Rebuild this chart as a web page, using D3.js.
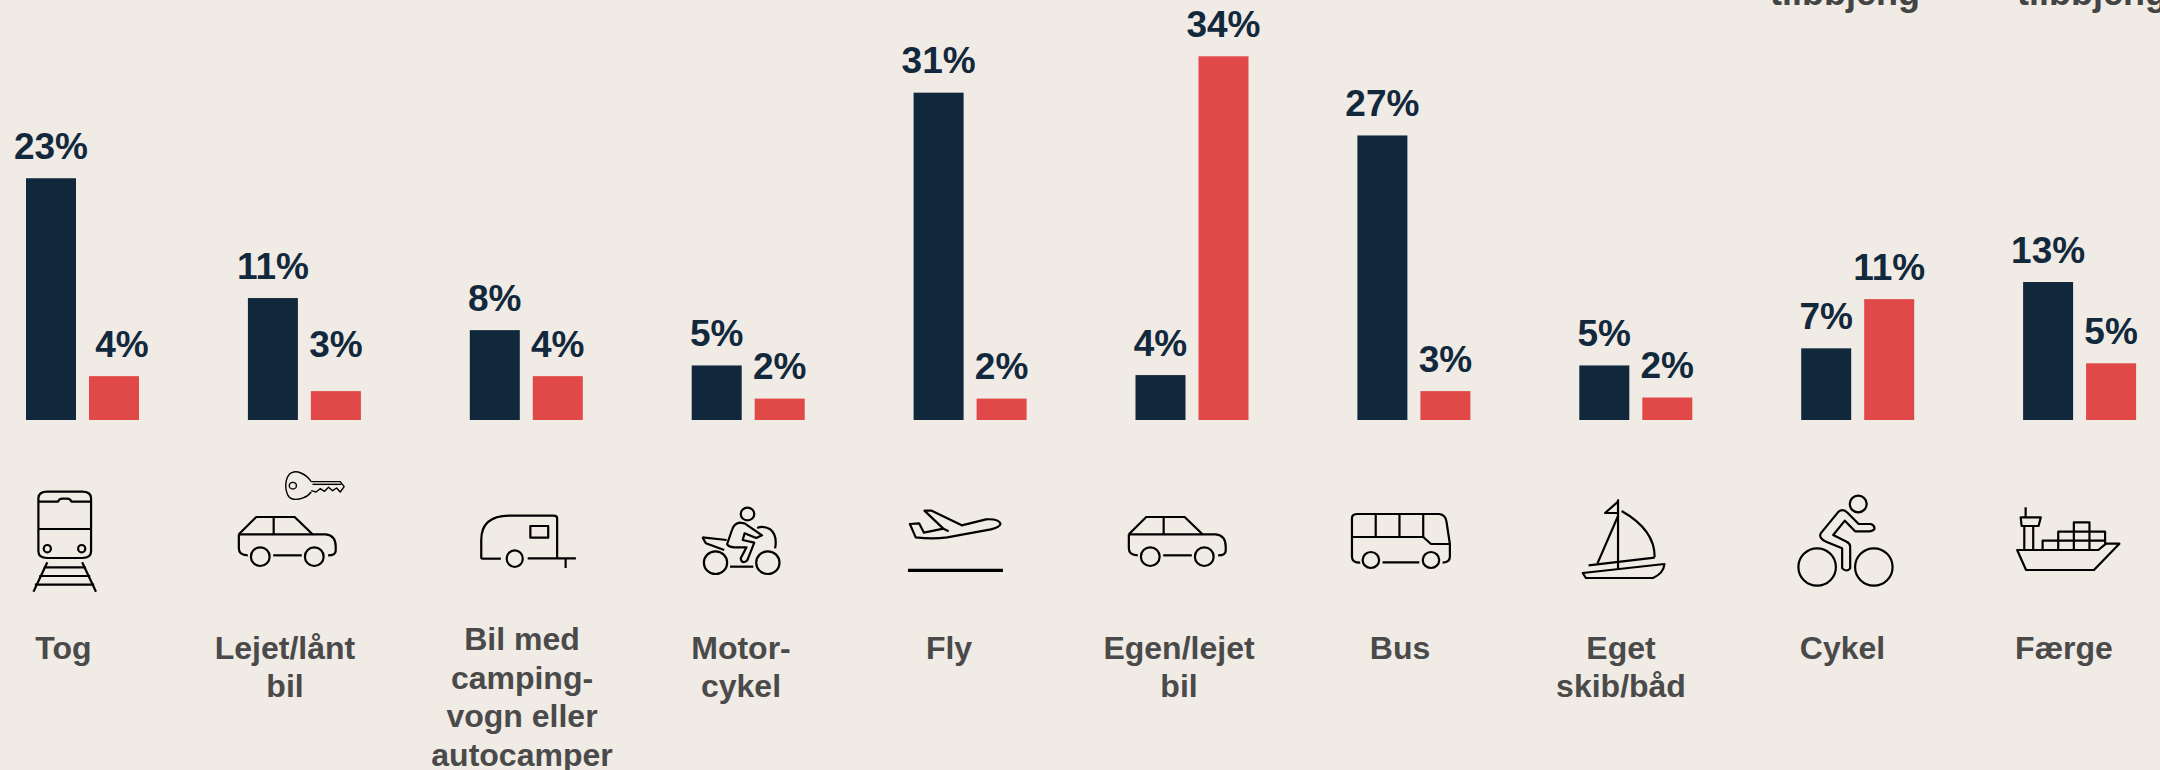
<!DOCTYPE html>
<html lang="da">
<head>
<meta charset="utf-8">
<title>Transportmidler</title>
<script src="https://cdn.jsdelivr.net/npm/d3@7/dist/d3.min.js"></script>
<style>
    html, body { margin: 0; padding: 0; background: #f0ebe4; overflow: hidden; }
    svg { display: block; }
    text { font-family: "Liberation Sans", Arial, sans-serif; font-weight: bold; }
    .valueLb { font-size: 37px; fill: #12283c; text-anchor: middle; }
    .catLb { font-size: 32px; fill: #4a4a4a; text-anchor: middle; }
    .cutLb { font-size: 36px; fill: #444444; }
    .icon path, .icon ellipse, .icon rect {
        fill: none;
        stroke: #000;
        stroke-width: 2.2;
        stroke-linejoin: round;
        vector-effect: non-scaling-stroke;
    }
</style>
</head>
<body>
<div id="main"></div>
<script>
// values (bars are not quite at the rounded label values)
const categories = ["Tog", "Lejet/lånt bil", "Bil med camping", "Motorcykel", "Fly",
                    "Egen/lejet bil", "Bus", "Eget skib/båd", "Cykel", "Færge"];
const seriesNames = ["dark", "red"];
const darkValues = [22.6, 11.4, 8.4, 5.1, 30.6, 4.2, 26.6, 5.1, 6.7, 12.9];
const redValues = [4.1, 2.7, 4.1, 2.0, 2.0, 34.0, 2.7, 2.1, 11.3, 5.3];
const categoryLines = [
    ["Tog"],
    ["Lejet/lånt", "bil"],
    ["Bil med", "camping-", "vogn eller", "autocamper"],
    ["Motor-", "cykel"],
    ["Fly"],
    ["Egen/lejet", "bil"],
    ["Bus"],
    ["Eget", "skib/båd"],
    ["Cykel"],
    ["Færge"]
];
const cutOffLabels = ["tilbbjeng", "tilbbjeng"];

const ctx = {
    w: 2160,
    h: 770,
    BASE_Y: 420,
    LABEL_GAP: 19.5,
    LINE_H: 38.4,
    DARK: "#11283c",
    RED: "#e14848",
    // centre of the category text, it is not centred on the bars
    catX: [63.5, 285, 522, 741, 949, 1179, 1400, 1621, 1842.5, 2064],
    // a couple of value labels were moved by hand in the original
    nudge: {"Tog|red": [8, 0], "Lejet/lånt bil|red": [0, -15]},
};

// icon outlines, traced in crop pixels; each crop has its own x scale, y is always 3x
const crops = {
    a: {x0: 0, sx: 2.24},
    b: {x0: 700, sx: 2.063},
    c: {x0: 1460, sx: 2.24},
};
const carPaths = [
    "M535 283 L574 231 H660 L700 283 H730 Q752 286 752 320 V332 Q752 346 735 346",
    "M535 283 V325 Q535 346 555 346",
    "M535 283 H700",
    "M613 231 V283",
    "M612 346 H676"
];
const carWheels = [[583, 350, 21, 28], [704, 350, 21, 28]];
const icons = [
    {crop: "a", paths: [
        "M86 175 Q86 155 106 155 H184 Q204 155 204 175 V334 Q204 354 184 354 H106 Q86 354 86 334 Z",
        "M86 185 H130 Q132 176 140 176 H150 Q158 176 160 185 H204",
        "M86 267 H204",
        "M106 367 L75 455", "M184 367 L215 455",
        "M98 382 H192", "M88 408 H202", "M78 434 H211"
    ], ellipses: [[106, 326, 8, 11], [183, 326, 8, 11]]},
    {crop: "a", paths: carPaths, ellipses: carWheels},
    {crop: "a", thin: true, paths: [
        "M697 125 H762 L771 140 L762 156 L754 144 L745 152 L736 142 L727 154 L717 146 L708 156 L697 152",
        "M700 133 H765",
        "M697 125 C685 100 665 92 655 97 C635 105 635 170 655 177 C670 182 690 170 697 156"
    ], ellipses: [[656, 137, 8, 10]]},
    {crop: "a", paths: [
        "M1078 356 V300 Q1078 228 1140 227 H1240 Q1248 227 1248 235 V354",
        "M1078 356 H1122",
        "M1182 355 H1290",
        "M1267 355 V384",
        "M1188 258 H1228 V293 H1188 Z"
    ], ellipses: [[1153, 356, 18, 25]]},
    {crop: "b", paths: [
        "M62 380 H110",
        "M82 248 Q70 250 66 270 L56 312 Q58 320 70 322 L96 322 L84 355 Q85 368 92 366 Q98 364 100 352 L112 308 L88 300 L92 280 L116 294 L128 286 L92 250 Z",
        "M5 292 L55 300", "M5 292 L12 310 L50 330",
        "M118 264 Q130 256 145 268 Q160 285 155 325"
    ], ellipses: [[98, 222, 14, 19], [32, 368, 24, 34], [140, 368, 24, 34]]},
    {crop: "b", paths: [
        "M433 252 L452 250 L462 278 L502 266 L463 212 L478 212 L540 256 L590 238 Q618 236 620 252 Q618 262 600 268 L510 292 Q480 298 445 292 Z",
        "M502 266 L513 274"
    ], ellipses: []},
    {crop: "b", thick: true, paths: ["M429 391 H625"], ellipses: []},
    {crop: "a", dx: 890, paths: carPaths, ellipses: carWheels},
    {crop: "b", paths: [
        "M1362 368 Q1345 368 1345 350 V234 Q1345 222 1357 222 H1525 Q1538 224 1540 245 L1547 312 V350 Q1547 366 1532 368",
        "M1345 291 H1492 L1508 312 H1547",
        "M1394 222 V291", "M1443 222 V291", "M1492 222 V291",
        "M1408 367 H1484"
    ], ellipses: [[1384, 360, 17, 24], [1508, 360, 17, 24]]},
    {crop: "c", paths: [
        "M354 178 V388",
        "M354 185 L325 219 H354",
        "M354 228 L308 370",
        "M362 213 Q437 270 436 352",
        "M288 376 L436 353",
        "M275 399 L458 372 Q456 400 432 414 H282 Z"
    ], ellipses: []},
    {crop: "c", paths: [
        "M808 280 L848 215 Q858 205 868 218 L893 252 H920 Q930 256 928 268 Q922 275 915 274 H885 L862 242 L836 285 L866 305 Q874 310 874 320 V385 Q866 398 856 385 V325 L820 305 Q803 295 808 280 Z"
    ], ellipses: [[892, 192, 19, 25], [800, 381, 42, 56], [927, 381, 42, 56]]},
    {crop: "c", paths: [
        "M1248 330 L1268 390 H1420 L1477 311 H1447 L1430 330 Z",
        "M1264 328 V258", "M1284 328 V258",
        "M1256 232 H1301 L1296 258 H1258 Z",
        "M1267 202 V232",
        "M1305 328 V302 H1445",
        "M1340 328 V275 H1445 V311",
        "M1375 328 V247 H1410 V328"
    ], ellipses: []},
];

function drawBars(rootG){
    // one band per category, then one band per series inside it
    ctx.x0 = d3.scaleBand().domain(categories).range([26, 2245]);
    ctx.x1 = d3.scaleBand().domain(seriesNames).range([0, 113]).paddingInner(13/63);
    ctx.y = d3.scaleLinear().domain([0, 34]).range([ctx.BASE_Y, 56.3]);

    const rows = [];
    categories.forEach((c, i) => {
        rows.push({cat: c, s: "dark", v: darkValues[i]});
        rows.push({cat: c, s: "red", v: redValues[i]});
    });

    rootG.append("g").attr("id", "bars").selectAll("rect")
      .data(rows)
      .enter()
      .append("rect")
      .attr("x", (d) => ctx.x0(d.cat) + ctx.x1(d.s))
      .attr("y", (d) => ctx.y(d.v))
      .attr("width", ctx.x1.bandwidth())
      .attr("height", (d) => ctx.BASE_Y - ctx.y(d.v))
      .attr("fill", (d) => d.s == "dark" ? ctx.DARK : ctx.RED);

    rootG.append("g").attr("id", "values").selectAll("text")
      .data(rows)
      .enter()
      .append("text")
      .classed("valueLb", true)
      .attr("x", function(d){
          const n = ctx.nudge[d.cat + "|" + d.s] || [0, 0];
          return ctx.x0(d.cat) + ctx.x1(d.s) + ctx.x1.bandwidth()/2 + n[0];
      })
      .attr("y", function(d){
          const n = ctx.nudge[d.cat + "|" + d.s] || [0, 0];
          return ctx.y(d.v) - ctx.LABEL_GAP + n[1];
      })
      .text((d) => Math.round(d.v) + "%");
}

function drawCategoryLabels(rootG){
    const g = rootG.append("g").attr("id", "categories");
    categoryLines.forEach((lines, i) => {
        // the four-line label starts a bit higher than the others
        const top = lines.length == 4 ? 650.3 : 659;
        g.selectAll(null)
         .data(lines)
         .enter()
         .append("text")
         .classed("catLb", true)
         .attr("x", ctx.catX[i])
         .attr("y", (d, j) => top + j*ctx.LINE_H)
         .text((d) => d);
    });
}

function drawIcons(rootG){
    const g = rootG.append("g").attr("id", "icons").classed("icon", true);
    icons.forEach((ic) => {
        const crop = crops[ic.crop];
        const iconG = g.append("g")
          .attr("transform", `translate(${crop.x0 + (ic.dx || 0)},440) scale(${1/crop.sx},${1/3})`);
        iconG.selectAll("path")
          .data(ic.paths)
          .enter()
          .append("path")
          .attr("d", (d) => d)
          .style("stroke-width", ic.thick ? 3.3 : (ic.thin ? 1.4 : null));
        iconG.selectAll("ellipse")
          .data(ic.ellipses)
          .enter()
          .append("ellipse")
          .attr("cx", (d) => d[0])
          .attr("cy", (d) => d[1])
          .attr("rx", (d) => d[2])
          .attr("ry", (d) => d[3])
          .style("stroke-width", ic.thin ? 1.4 : null);
    });
}

function createViz(){
    let svgEl = d3.select("#main").append("svg");
    svgEl.attr("width", ctx.w);
    svgEl.attr("height", ctx.h);
    let rootG = svgEl.append("g").attr("id", "rootG");
    drawBars(rootG);
    drawIcons(rootG);
    drawCategoryLabels(rootG);
    // bottom of two labels cut off by the top edge of the picture
    rootG.append("g").selectAll("text")
      .data(cutOffLabels)
      .enter()
      .append("text")
      .classed("cutLb", true)
      .attr("x", (d, i) => [1770, 2017][i])
      .attr("y", 4.5)
      .text((d) => d);
}

createViz();
</script>
</body>
</html>
